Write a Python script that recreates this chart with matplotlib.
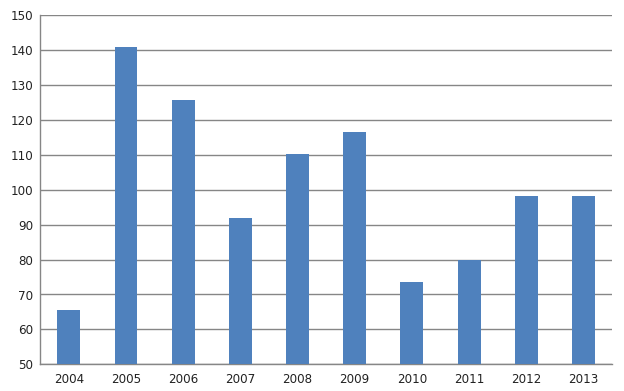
import matplotlib
matplotlib.use("Agg")
import matplotlib.pyplot as plt

years = ["2004", "2005", "2006", "2007", "2008", "2009", "2010", "2011", "2012", "2013"]
values = [65.6, 140.9, 125.7, 91.9, 110.3, 116.6, 73.6, 80.0, 98.2, 98.2]
y_ticks = [50, 60, 70, 80, 90, 100, 110, 120, 130, 140, 150]

fig = plt.figure(figsize=(6.24, 3.91), dpi=100)
ax = fig.add_axes([40.3/624, 1-364.3/391, (612-40.3)/624, (364.3-15.3)/391])

x = list(range(len(years)))
ax.bar(x, values, width=0.40, color="#4F81BD", zorder=3)
ax.set_xlim(-0.5, len(years) - 0.5)
ax.set_ylim(50, 150)
ax.set_yticks(y_ticks)
ax.set_xticks(x)
ax.set_xticklabels(years)
ax.yaxis.grid(True, color="#868686", linewidth=1.0, zorder=0)
ax.set_axisbelow(True)
for s in ["top", "right"]:
    ax.spines[s].set_visible(False)
for s in ["left", "bottom"]:
    ax.spines[s].set_color("#868686")
    ax.spines[s].set_linewidth(1.0)
ax.tick_params(axis="both", length=0, labelsize=8.6, colors="#222222")
ax.tick_params(axis="y", pad=5)
ax.tick_params(axis="x", pad=6)

fig.savefig("out.png", dpi=100)
